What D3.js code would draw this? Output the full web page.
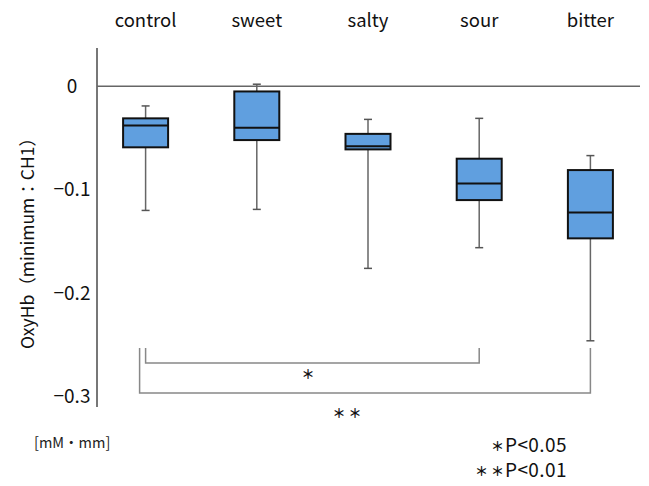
<!DOCTYPE html>
<html>
<head>
<meta charset="utf-8">
<script src="https://cdn.jsdelivr.net/npm/d3@7"></script>
<style>
  body { margin: 0; background: #fff; }
  svg { display: block; font-family: "Noto Sans CJK JP", "Noto Sans", sans-serif; }
</style>
</head>
<body>
<div id="chart"></div>
<script>
// taste stimuli, box plot of OxyHb minimum (CH1)
const categories = ["control", "sweet", "salty", "sour", "bitter"];
const whiskerHigh = [-0.019, 0.002, -0.032, -0.031, -0.067];
const q3 = [-0.031, -0.005, -0.046, -0.070, -0.081];
const median = [-0.038, -0.040, -0.058, -0.094, -0.122];
const q1 = [-0.059, -0.052, -0.061, -0.110, -0.147];
const whiskerLow = [-0.120, -0.119, -0.176, -0.156, -0.246];
const yTicks = [0, -0.1, -0.2, -0.3];
const yTickLabels = ["0", "\u22120.1", "\u22120.2", "\u22120.3"];

// significance brackets
const sigFrom = ["control", "control"];
const sigTo = ["sour", "bitter"];
const sigTop = [-0.253, -0.253];
const sigLevel = [-0.2675, -0.2965];
const sigMarks = ["\uff0a", "\uff0a \uff0a"];
const pLabels = ["P<0.05", "P<0.01"];

const width = 649, height = 486;

const svg = d3.select("#chart").append("svg")
    .attr("width", width)
    .attr("height", height);

let x = d3.scaleBand().domain(categories).range([90, 646]).padding(0);
let y = d3.scaleLinear().domain([-0.31, 0.037]).range([407, 48]);

const cx = c => x(c) + x.bandwidth() / 2;
const boxW = 45;

// y axis line + labels
svg.append("line")
    .attr("x1", 97).attr("x2", 97)
    .attr("y1", y(0.037)).attr("y2", y(-0.31))
    .style("stroke", "#777")
    .style("stroke-width", 2);

svg.append("g").selectAll("text")
    .data(yTicks)
    .join("text")
    .attr("x", 72)
    .attr("y", d => y(d))
    .attr("dy", "0.35em")
    .attr("text-anchor", "middle")
    .style("font-size", "19px")
    .style("fill", "#111")
    .text((d, i) => yTickLabels[i]);

// zero line
svg.append("line")
    .attr("x1", 97).attr("x2", 640)
    .attr("y1", y(0)).attr("y2", y(0))
    .style("stroke", "#666")
    .style("stroke-width", 1.5);

// category labels on top
svg.append("g").selectAll("text")
    .data(categories)
    .join("text")
    .attr("x", d => cx(d))
    .attr("y", 27)
    .attr("text-anchor", "middle")
    .style("font-size", "18.5px")
    .style("fill", "#111")
    .text(d => d);

// y title
svg.append("text")
    .attr("transform", "translate(34,239) rotate(-90)")
    .attr("text-anchor", "middle")
    .style("font-size", "17.5px")
    .style("fill", "#111")
    .text("OxyHb\uff08minimum\uff1aCH1\uff09");

// boxes
const boxes = svg.append("g").selectAll("g")
    .data(categories)
    .join("g");

boxes.append("line")
    .attr("x1", d => cx(d)).attr("x2", d => cx(d))
    .attr("y1", (d, i) => y(whiskerHigh[i]))
    .attr("y2", (d, i) => y(whiskerLow[i]))
    .style("stroke", "#666")
    .style("stroke-width", 1.5);

[whiskerHigh, whiskerLow].forEach(arr => {
    boxes.append("line")
        .attr("x1", d => cx(d) - 4).attr("x2", d => cx(d) + 4)
        .attr("y1", (d, i) => y(arr[i]))
        .attr("y2", (d, i) => y(arr[i]))
        .style("stroke", "#555")
        .style("stroke-width", 1.5);
});

boxes.append("rect")
    .attr("x", d => cx(d) - boxW / 2)
    .attr("width", boxW)
    .attr("y", (d, i) => y(q3[i]))
    .attr("height", (d, i) => y(q1[i]) - y(q3[i]))
    .style("fill", "#609fdf")
    .style("stroke", "#111")
    .style("stroke-width", 2);

boxes.append("line")
    .attr("x1", d => cx(d) - boxW / 2).attr("x2", d => cx(d) + boxW / 2)
    .attr("y1", (d, i) => y(median[i]))
    .attr("y2", (d, i) => y(median[i]))
    .style("stroke", "#111")
    .style("stroke-width", 2);

// brackets
sigFrom.forEach((f, i) => {
    const x1 = cx(f) - (i === 0 ? 0 : 6);
    const x2 = cx(sigTo[i]);
    svg.append("path")
        .attr("d", d3.line()([[x1, y(sigTop[i])], [x1, y(sigLevel[i])], [x2, y(sigLevel[i])], [x2, y(sigTop[i])]]))
        .style("fill", "none")
        .style("stroke", "#888")
        .style("stroke-width", 1.5);
});

svg.append("text")
    .attr("x", 308).attr("y", 379)
    .attr("text-anchor", "middle")
    .style("font-size", "13px").style("font-weight", "bold")
    .style("fill", "#111")
    .text(sigMarks[0]);

svg.append("text")
    .attr("x", 347).attr("y", 418)
    .attr("text-anchor", "middle")
    .style("font-size", "13px").style("font-weight", "bold")
    .style("fill", "#111")
    .text(sigMarks[1]);

// unit
svg.append("text")
    .attr("x", 34).attr("y", 448)
    .style("font-size", "14.5px")
    .style("fill", "#222")
    .text("[mM\u30fbmm]");

// legend
[452, 477].forEach((yy, i) => {
    svg.append("text")
        .attr("x", 504).attr("y", yy - 1)
        .attr("text-anchor", "end")
        .style("font-size", "13px").style("font-weight", "bold")
        .style("fill", "#111")
        .text(sigMarks[i]);
    svg.append("text")
        .attr("x", 505).attr("y", yy)
        .style("font-size", "19px")
        .style("letter-spacing", "0.4px")
        .style("fill", "#111")
        .text(pLabels[i]);
});
</script>
</body>
</html>
